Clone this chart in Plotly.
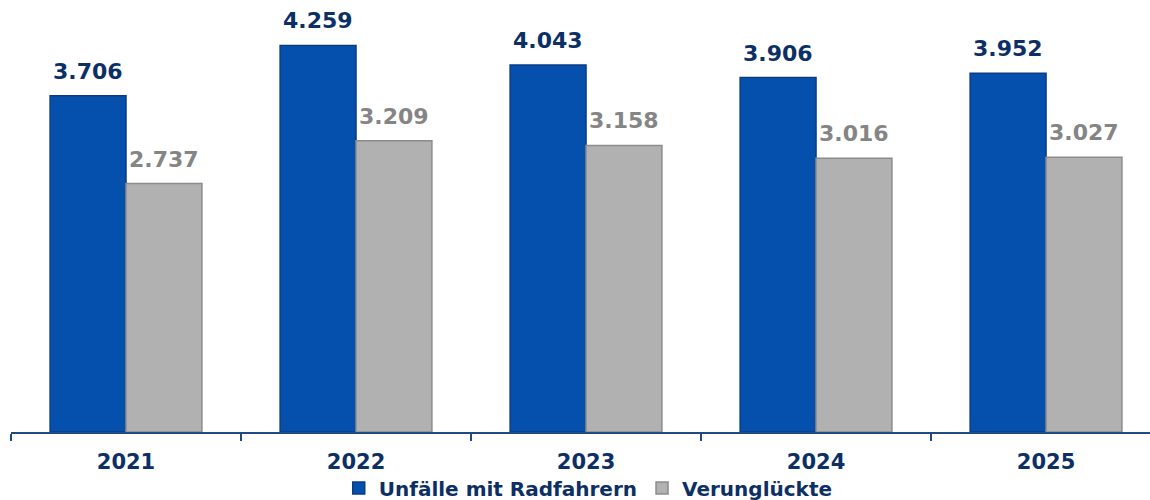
import plotly.graph_objects as go

years = ["2021", "2022", "2023", "2024", "2025"]
unfaelle = [3706, 4259, 4043, 3906, 3952]
verunglueckte = [2737, 3209, 3158, 3016, 3027]
series_names = ["Unfälle mit Radfahrern", "Verunglückte"]

navy = "#0c2f66"
font = "DejaVu Sans"

def fmt(v):
    return f"{v:,}".replace(",", ".")

fig = go.Figure()
fig.add_trace(go.Bar(
    x=years, y=unfaelle, name=f"<b>{series_names[0]}</b>",
    marker=dict(color="#0650ad", line=dict(color="#0a3c85", width=1.5)),
))
fig.add_trace(go.Bar(
    x=years, y=verunglueckte, name=f"<b>{series_names[1]}</b>",
    marker=dict(color="#b1b1b1", line=dict(color="#8c8c8c", width=1.5)),
))

bar_px = 230 * (1 - 0.34) / 2
for vals, shift, col in [(unfaelle, -bar_px / 2, navy), (verunglueckte, bar_px / 2, "#858585")]:
    for idx, v in enumerate(vals):
        fig.add_annotation(
            x=idx, y=v, xref="x", yref="y", text=f"<b>{fmt(v)}</b>",
            showarrow=False, xshift=round(shift), yshift=10, yanchor="bottom",
            font=dict(family=font, size=22, color=col),
        )

fig.update_layout(
    width=1150, height=500,
    margin=dict(l=11, r=0, t=0, b=68),
    paper_bgcolor="white", plot_bgcolor="white",
    barmode="group", bargap=0.34, bargroupgap=0,
    showlegend=True,
    legend=dict(
        orientation="h", x=0.5115, xanchor="center", xref="container",
        y=0.024, yanchor="middle", yref="container",
        font=dict(family=font, size=20, color=navy),
        bgcolor="rgba(0,0,0,0)",
    ),
    xaxis=dict(
        type="category", range=[-0.5, 4.452], automargin=False,
        showline=True, linecolor="#1d4a80", linewidth=1.5,
        ticks="outside", tickson="boundaries", ticklen=7, tickcolor="#1d4a80", tickwidth=1.5,
        tickfont=dict(family=font, size=21, color=navy),
        tickprefix="<b>", ticksuffix="</b>",
        ticklabelstandoff=10,
        showgrid=False, zeroline=False,
    ),
    yaxis=dict(range=[0, 4760], showticklabels=False, showline=False,
               showgrid=False, zeroline=False, automargin=False),
)

fig.write_html("out.html", config={"displayModeBar": False},
               post_script="document.body.style.margin='0';")
